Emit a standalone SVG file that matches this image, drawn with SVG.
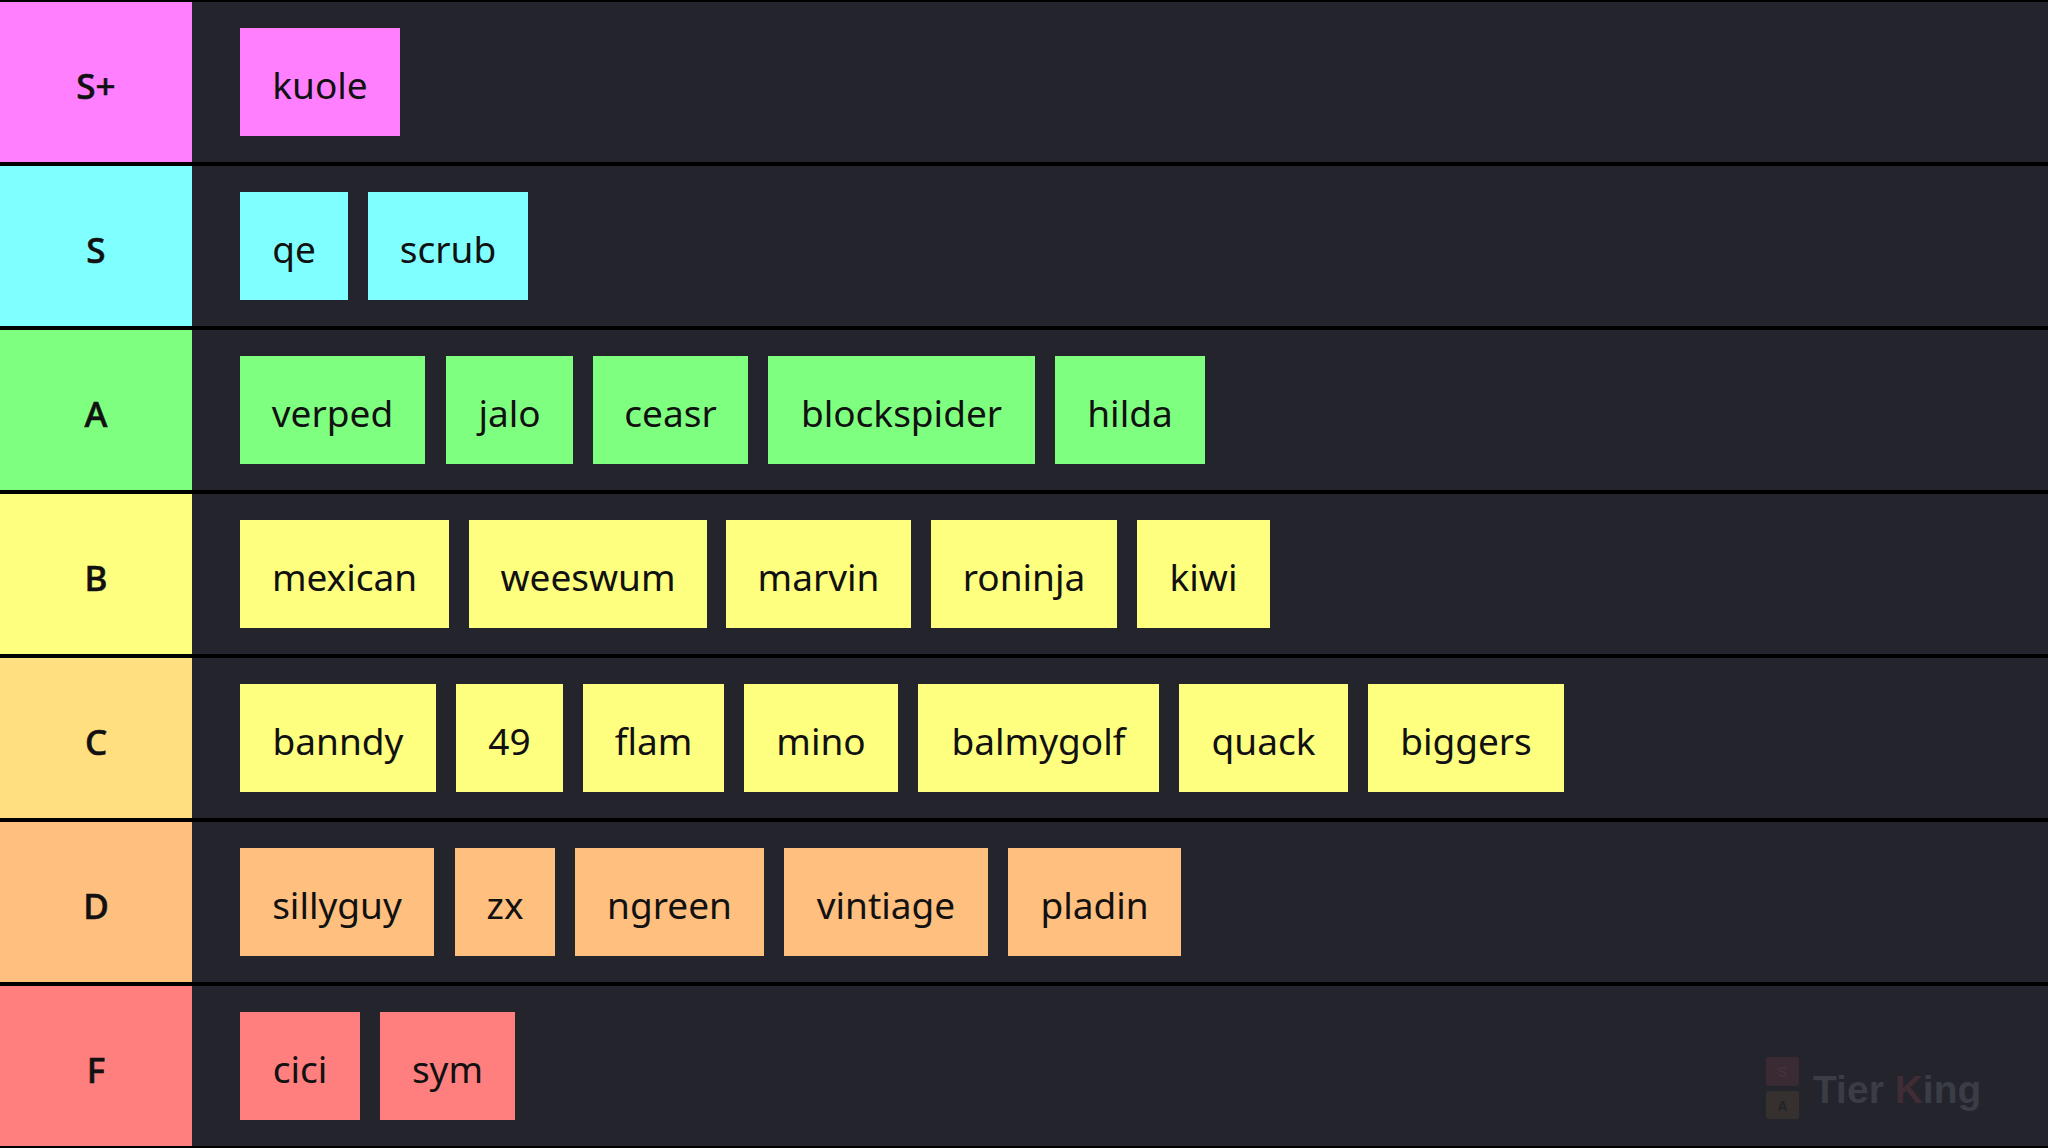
<svg xmlns="http://www.w3.org/2000/svg" width="2048" height="1148" viewBox="0 0 2048 1148">
<style>
.bg{fill:#000}
.lane{fill:#23242c}
.lbl{font-family:"Noto Sans","Open Sans",sans-serif;font-size:35px;font-weight:500;fill:#111;text-anchor:middle;stroke:#111;stroke-width:0.6px}
.t{font-family:"Noto Sans","Open Sans",sans-serif;font-size:37px;fill:#111;text-anchor:middle}
.sp{fill:#ff7fff}.s{fill:#7fffff}.a{fill:#7fff7f}.b{fill:#ffff7f}.c{fill:#ffdf7f}.d{fill:#ffbf7f}.f{fill:#ff7f7f}
.wm{font-family:"Liberation Sans",Arial,sans-serif;font-size:39px;font-weight:bold;fill:#3a3c46}
</style>
<rect class="bg" x="0" y="0" width="2048" height="1148"/>

<g id="tier-splus">
<rect class="sp" x="0" y="2" width="192" height="160"/>
<rect class="lane" x="192" y="2" width="1856" height="160"/>
<text class="lbl" x="96" y="99">S+</text>
</g>
<g id="tier-s">
<rect class="s" x="0" y="166" width="192" height="160"/>
<rect class="lane" x="192" y="166" width="1856" height="160"/>
<text class="lbl" x="96" y="263">S</text>
</g>
<g id="tier-a">
<rect class="a" x="0" y="330" width="192" height="160"/>
<rect class="lane" x="192" y="330" width="1856" height="160"/>
<text class="lbl" x="96" y="427">A</text>
</g>
<g id="tier-b">
<rect class="b" x="0" y="494" width="192" height="160"/>
<rect class="lane" x="192" y="494" width="1856" height="160"/>
<text class="lbl" x="96" y="591">B</text>
</g>
<g id="tier-c">
<rect class="c" x="0" y="658" width="192" height="160"/>
<rect class="lane" x="192" y="658" width="1856" height="160"/>
<text class="lbl" x="96" y="755">C</text>
</g>
<g id="tier-d">
<rect class="d" x="0" y="822" width="192" height="160"/>
<rect class="lane" x="192" y="822" width="1856" height="160"/>
<text class="lbl" x="96" y="919">D</text>
</g>
<g id="tier-f">
<rect class="f" x="0" y="986" width="192" height="160"/>
<rect class="lane" x="192" y="986" width="1856" height="160"/>
<text class="lbl" x="96" y="1083">F</text>
</g>

<g id="item-kuole"><rect class="sp" x="240" y="28" width="160" height="108"/><text class="t" x="320" y="99">kuole</text></g>

<g id="item-qe"><rect class="s" x="240" y="192" width="108" height="108"/><text class="t" x="294" y="263">qe</text></g>
<g id="item-scrub"><rect class="s" x="368" y="192" width="160" height="108"/><text class="t" x="448" y="263">scrub</text></g>

<g id="item-verped"><rect class="a" x="240" y="356" width="185" height="108"/><text class="t" x="332.5" y="427">verped</text></g>
<g id="item-jalo"><rect class="a" x="446" y="356" width="127" height="108"/><text class="t" x="509.5" y="427">jalo</text></g>
<g id="item-ceasr"><rect class="a" x="593" y="356" width="155" height="108"/><text class="t" x="670.5" y="427">ceasr</text></g>
<g id="item-blockspider"><rect class="a" x="768" y="356" width="267" height="108"/><text class="t" x="901.5" y="427">blockspider</text></g>
<g id="item-hilda"><rect class="a" x="1055" y="356" width="150" height="108"/><text class="t" x="1130" y="427">hilda</text></g>

<g id="item-mexican"><rect class="b" x="240" y="520" width="209" height="108"/><text class="t" x="344.5" y="591">mexican</text></g>
<g id="item-weeswum"><rect class="b" x="469" y="520" width="238" height="108"/><text class="t" x="588" y="591">weeswum</text></g>
<g id="item-marvin"><rect class="b" x="726" y="520" width="185" height="108"/><text class="t" x="818.5" y="591">marvin</text></g>
<g id="item-roninja"><rect class="b" x="931" y="520" width="186" height="108"/><text class="t" x="1024" y="591">roninja</text></g>
<g id="item-kiwi"><rect class="b" x="1137" y="520" width="133" height="108"/><text class="t" x="1203.5" y="591">kiwi</text></g>

<g id="item-banndy"><rect class="b" x="240" y="684" width="196" height="108"/><text class="t" x="338" y="755">banndy</text></g>
<g id="item-49"><rect class="b" x="456" y="684" width="107" height="108"/><text class="t" x="509.5" y="755">49</text></g>
<g id="item-flam"><rect class="b" x="583" y="684" width="141" height="108"/><text class="t" x="653.5" y="755">flam</text></g>
<g id="item-mino"><rect class="b" x="744" y="684" width="154" height="108"/><text class="t" x="821" y="755">mino</text></g>
<g id="item-balmygolf"><rect class="b" x="918" y="684" width="241" height="108"/><text class="t" x="1038.5" y="755">balmygolf</text></g>
<g id="item-quack"><rect class="b" x="1179" y="684" width="169" height="108"/><text class="t" x="1263.5" y="755">quack</text></g>
<g id="item-biggers"><rect class="b" x="1368" y="684" width="196" height="108"/><text class="t" x="1466" y="755">biggers</text></g>

<g id="item-sillyguy"><rect class="d" x="240" y="848" width="194" height="108"/><text class="t" x="337" y="919">sillyguy</text></g>
<g id="item-zx"><rect class="d" x="455" y="848" width="100" height="108"/><text class="t" x="505" y="919">zx</text></g>
<g id="item-ngreen"><rect class="d" x="575" y="848" width="189" height="108"/><text class="t" x="669.5" y="919">ngreen</text></g>
<g id="item-vintiage"><rect class="d" x="784" y="848" width="204" height="108"/><text class="t" x="886" y="919">vintiage</text></g>
<g id="item-pladin"><rect class="d" x="1008" y="848" width="173" height="108"/><text class="t" x="1094.5" y="919">pladin</text></g>

<g id="item-cici"><rect class="f" x="240" y="1012" width="120" height="108"/><text class="t" x="300" y="1083">cici</text></g>
<g id="item-sym"><rect class="f" x="380" y="1012" width="135" height="108"/><text class="t" x="447.5" y="1083">sym</text></g>

<g id="connectors"></g>

<g id="watermark">
<rect x="1766" y="1057" width="33" height="29" rx="3" fill="#3a2a33"/>
<text x="1782.5" y="1077" font-family="Liberation Sans, sans-serif" font-size="14" font-weight="bold" fill="#48303a" text-anchor="middle">S</text>
<rect x="1766" y="1091" width="33" height="28" rx="3" fill="#36312f"/>
<text x="1782.5" y="1111" font-family="Liberation Sans, sans-serif" font-size="14" font-weight="bold" fill="#222229" text-anchor="middle">A</text>
<text class="wm" x="1813" y="1103">Tier <tspan fill="#3f2c35">K</tspan>ing</text>
</g>
</svg>
